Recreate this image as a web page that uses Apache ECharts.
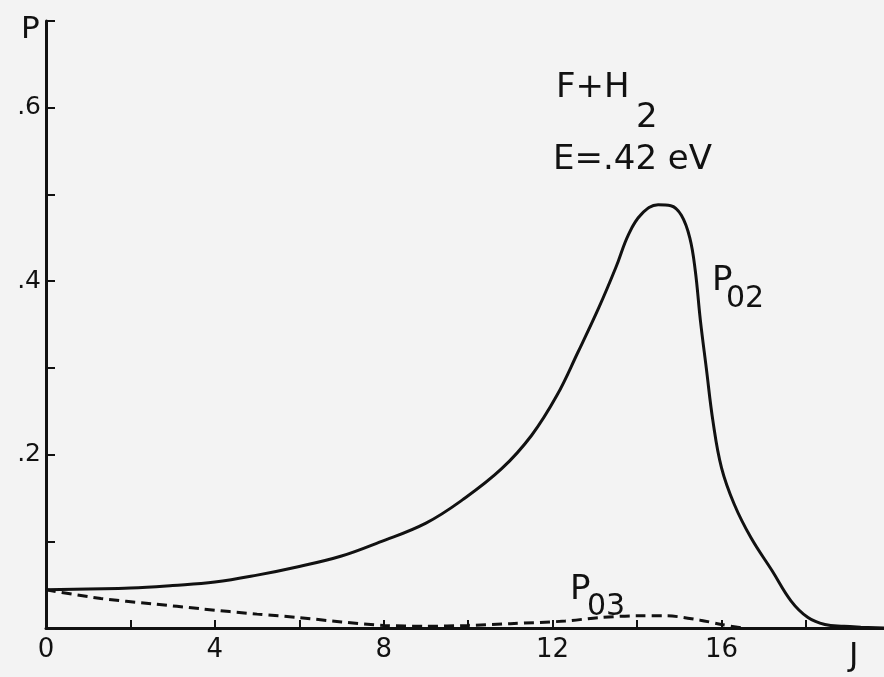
<!DOCTYPE html>
<html>
<head>
<meta charset="utf-8">
<title>F + H2, E = .42 eV</title>
<script src="https://cdn.jsdelivr.net/npm/echarts@6/dist/echarts.min.js"></script>
<style>
  html, body { margin: 0; padding: 0; background: #f3f3f3; }
  #chart { width: 884px; height: 677px; }
</style>
</head>
<body>
<div id="chart"></div>
<script>
// Rotational quantum number J and transition probabilities
const p02J = [0, 1, 2, 3, 4, 5, 6, 7, 7.9, 9, 9.9, 10.8, 11.5, 12.1, 12.6, 13.1, 13.5, 13.8, 14.1, 14.5, 14.8, 15.05, 15.25, 15.38, 15.5, 15.64, 15.8, 16.0, 16.3, 16.7, 17.2, 17.65, 18.05, 18.45, 18.9, 19.3, 19.85];
const p02P = [0.044, 0.045, 0.046, 0.049, 0.053, 0.061, 0.071, 0.083, 0.099, 0.121, 0.149, 0.184, 0.222, 0.268, 0.318, 0.370, 0.416, 0.454, 0.477, 0.488, 0.487, 0.476, 0.450, 0.412, 0.355, 0.300, 0.238, 0.185, 0.143, 0.104, 0.066, 0.031, 0.012, 0.004, 0.002, 0.001, 0.0];

const p03J = [0, 1.3, 2.5, 3.7, 5, 6, 7, 8, 9, 10, 11, 12.3, 13.1, 14, 14.7, 15.5, 16, 16.5];
const p03P = [0.044, 0.034, 0.028, 0.022, 0.016, 0.012, 0.007, 0.003, 0.002, 0.003, 0.005, 0.008, 0.012, 0.014, 0.014, 0.009, 0.004, 0.0];

const jTickLabels = [0, 4, 8, 12, 16];
const pTickLabels = [0.2, 0.4, 0.6];

const ink = '#111111';
const font = 'DejaVu Sans';

const pairs = (xs, ys) => xs.map((x, i) => [x, ys[i]]);

const chart = echarts.init(document.getElementById('chart'), null, { renderer: 'canvas' });

chart.setOption({
  backgroundColor: '#f3f3f3',
  animation: false,
  grid: { left: 46, right: 0, top: 21, bottom: 49, containLabel: false },
  xAxis: {
    type: 'value',
    min: 0,
    max: 19.85,
    interval: 2,
    splitLine: { show: false },
    axisLine: { lineStyle: { color: ink, width: 3 } },
    axisTick: { inside: true, length: 8, lineStyle: { color: ink, width: 2 } },
    axisLabel: {
      color: ink,
      fontFamily: font,
      fontSize: 26,
      margin: 9,
      showMaxLabel: false,
      formatter: v => jTickLabels.some(t => Math.abs(t - v) < 1e-6) ? String(v) : ''
    }
  },
  yAxis: {
    type: 'value',
    min: 0,
    max: 0.7,
    interval: 0.1,
    splitLine: { show: false },
    axisLine: { lineStyle: { color: ink, width: 3 } },
    axisTick: { inside: true, length: 9, lineStyle: { color: ink, width: 2 } },
    axisLabel: {
      color: ink,
      fontFamily: font,
      fontSize: 25,
      margin: 5,
      formatter: v => pTickLabels.some(t => Math.abs(t - v) < 1e-6) ? String(v).replace(/^0/, '') : ''
    }
  },
  series: [
    {
      name: 'P02',
      type: 'line',
      data: pairs(p02J, p02P),
      smooth: 0.4,
      showSymbol: false,
      lineStyle: { color: ink, width: 3 }
    },
    {
      name: 'P03',
      type: 'line',
      data: pairs(p03J, p03P),
      smooth: 0.3,
      showSymbol: false,
      lineStyle: { color: ink, width: 3, type: [10, 6] }
    }
  ],
  graphic: [
    { type: 'text', left: 21, top: 14, style: { text: 'P', font: '31px ' + font, fill: ink } },
    { type: 'text', left: 849, top: 641, style: { text: 'J', font: '32px ' + font, fill: ink } },
    { type: 'text', x: 556, y: 88, style: { text: 'F+H', font: '34px ' + font, fill: ink, verticalAlign: 'middle' } },
    { type: 'text', x: 636, y: 118, style: { text: '2', font: '34px ' + font, fill: ink, verticalAlign: 'middle' } },
    { type: 'text', x: 553, y: 160, style: { text: 'E=.42 eV', font: '34px ' + font, fill: ink, verticalAlign: 'middle' } },
    { type: 'text', x: 712, y: 281, style: { text: 'P', font: '34px ' + font, fill: ink, verticalAlign: 'middle' } },
    { type: 'text', x: 726, y: 299, style: { text: '02', font: '30px ' + font, fill: ink, verticalAlign: 'middle' } },
    { type: 'text', x: 570, y: 590, style: { text: 'P', font: '34px ' + font, fill: ink, verticalAlign: 'middle' } },
    { type: 'text', x: 587, y: 607, style: { text: '03', font: '30px ' + font, fill: ink, verticalAlign: 'middle' } }
  ]
});
</script>
</body>
</html>
